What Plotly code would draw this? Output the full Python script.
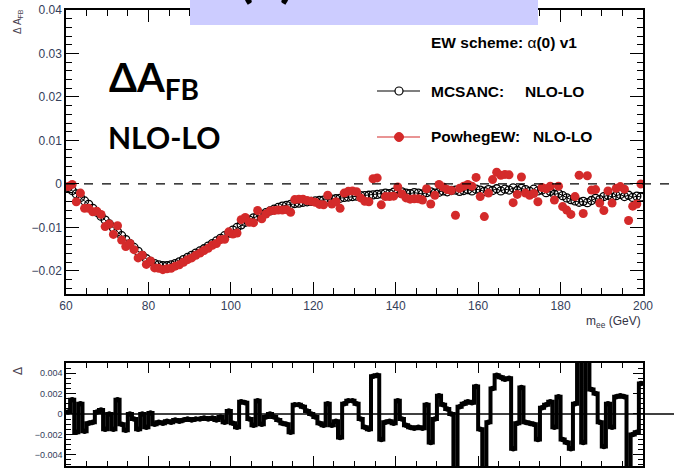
import numpy as np
import plotly.graph_objects as go

# 1 GeV bins in m_ee from 60 to 200 GeV
BIN_EDGES = list(range(60, 201))

# Delta A_FB (NLO-LO), in units of 1e-3, one value per bin
MCSANC_NLO_LO = [
    -0.8, -1.5, -2.3, -3.1, -3.9, -4.7, -5.6, -6.5, -7.4, -8.3,
    -9.2, -10.1, -11.0, -11.9, -12.8, -13.7, -14.6, -15.5, -16.4, -17.2,
    -17.8, -18.3, -18.6, -18.8, -18.8, -18.6, -18.3, -17.9, -17.4, -16.9,
    -16.4, -15.9, -15.4, -14.9, -14.3, -13.7, -13.1, -12.5, -11.9, -11.3,
    -10.6, -10.0, -9.4, -8.8, -8.3, -7.8, -7.4, -7.0, -6.6, -6.2,
    -5.8, -5.4, -5.1, -4.9, -4.7, -4.5, -4.4, -4.2, -4.1, -4.0,
    -3.9, -3.8, -3.7, -3.6, -3.5, -3.4, -3.3, -3.1, -3.0, -2.9,
    -2.8, -2.7, -2.7, -2.6, -2.5, -2.4, -2.3, -2.1, -2.2, -1.9,
    -2.0, -1.8, -2.1, -2.2, -2.0, -2.1, -2.3, -2.0, -1.8, -2.1,
    -1.9, -1.6, -1.8, -1.5, -1.4, -1.7, -1.5, -1.3, -1.6, -1.2,
    -1.4, -1.7, -1.3, -1.5, -1.1, -1.6, -1.2, -1.4, -0.9, -1.5,
    -1.0, -1.3, -1.7, -1.2, -1.6, -1.4, -2.0, -1.7, -2.4, -2.2,
    -2.7, -3.2, -3.6, -3.9, -4.2, -4.0, -4.3, -3.8, -3.3, -3.6,
    -2.9, -2.6, -3.1, -2.7, -2.4, -2.9, -2.6, -3.1, -2.8, -3.0,
]

# PowhegEW minus MCSANC, in units of 1e-3
DELTA = [
    0.2, 1.4, -1.8, 1.0, -1.7, -0.9, -0.8, 0.2, 0.4, -1.5,
    0.0, -1.5, 1.4, -1.0, -1.6, 0.0, -0.5, -1.5, 0.0, -1.3,
    0.1, -1.0, -0.8, -0.9, -0.7, -0.8, -0.6, -0.7, -0.6, -0.5,
    -0.6, -0.5, -0.5, -0.4, -0.5, -0.4, -0.6, -0.3, -0.8, 0.3,
    -0.9, -1.3, 1.2, 1.1, -0.5, -1.1, 1.3, -1.0, -0.3, 0.0,
    -0.3, -0.6, -0.9, -1.0, -1.8, 0.9, 0.9, 0.7, 0.3, 0.0,
    -0.3, -0.9, -1.1, 1.0, -1.1, -0.7, -2.3, 1.0, 1.3, 1.3,
    1.0, -0.5, -1.3, -1.5, 3.7, 3.8, -2.5, -0.8, -0.7, -0.9,
    1.3, -0.5, -1.1, -1.3, -1.4, -1.3, -1.4, 0.9, -2.8, -0.5,
    1.8, 0.9, 0.5, 0.0, -5.8, 0.7, 1.0, 1.2, 1.1, 2.7,
    -1.5, -5.8, -0.8, 2.5, 3.8, 3.6, 3.4, 3.5, -3.4, -0.9,
    2.6, -0.8, -0.9, -1.0, -2.5, 0.6, 0.9, 1.2, -1.3, 1.7,
    -2.5, -2.8, -3.4, 1.0, 6.2, -2.8, 6.2, 2.4, 2.0, -0.8,
    -3.2, 1.0, -1.3, 1.7, 1.8, 1.7, -5.8, -2.0, -1.8, 3.0,
]

X_TICKS = [60, 80, 100, 120, 140, 160, 180, 200]
SCALE = 1e-3

edges = np.array(BIN_EDGES, dtype=float)
centers = 0.5 * (edges[:-1] + edges[1:])
mcsanc = np.array(MCSANC_NLO_LO) * SCALE
delta = np.array(DELTA) * SCALE
powheg = mcsanc + delta

W, H = 674, 469
def px(x):
    return x / W
def py(y):
    return 1 - y / H

X_DOM = [px(66), px(643)]
TICK_COL = "#34405a"
RED = "#d42a2a"
FONT = "Liberation Sans, Arial, sans-serif"

fig = go.Figure()

fig.add_trace(go.Scatter(
    x=centers, y=mcsanc, mode="lines+markers",
    line=dict(color="black", width=1),
    marker=dict(symbol="circle-open", size=8, color="black", line=dict(width=1.3)),
    xaxis="x", yaxis="y", name="MCSANC: NLO-LO",
))
fig.add_trace(go.Scatter(
    x=centers, y=powheg, mode="markers",
    marker=dict(symbol="circle", size=9, color=RED),
    xaxis="x", yaxis="y", name="PowhegEW: NLO-LO",
))

# step histogram of the difference
step_x = list(edges)
step_y = list(delta) + [delta[-1]]
fig.add_trace(go.Scatter(
    x=step_x, y=step_y, mode="lines", line=dict(color="black", width=4, shape="hv"),
    xaxis="x2", yaxis="y2", hoverinfo="skip",
))
fig.add_trace(go.Scatter(
    x=centers, y=delta, mode="markers", marker=dict(color="black", size=5.5),
    xaxis="x2", yaxis="y2",
))

axis_common = dict(
    showline=True, linecolor="black", linewidth=1.5, mirror="allticks",
    ticks="inside", tickcolor="black", showgrid=False, zeroline=False,
    automargin=False,
)

fig.update_layout(
    width=W, height=H, margin=dict(l=0, r=0, t=0, b=0),
    template="none", showlegend=False,
    paper_bgcolor="white", plot_bgcolor="white",
    font=dict(family=FONT, color="black"),
    xaxis=dict(
        domain=X_DOM, range=[60, 200], anchor="y",
        tickvals=X_TICKS, ticklen=12, tickwidth=1.3,
        tickfont=dict(size=12, color=TICK_COL),
        minor=dict(ticks="inside", dtick=5, tick0=60, ticklen=6, tickcolor="black", tickwidth=1.1),
        **axis_common,
    ),
    yaxis=dict(
        domain=[py(294), py(10)], range=[-0.0253, 0.04], anchor="x",
        dtick=0.01, tick0=0, ticklen=13, tickwidth=1.3,
        tickfont=dict(size=12, color=TICK_COL),
        minor=dict(ticks="inside", dtick=0.002, tick0=0, ticklen=6, tickcolor="black", tickwidth=1.1),
        **axis_common,
    ),
    xaxis2=dict(
        domain=X_DOM, range=[60, 200], anchor="y2",
        tickvals=X_TICKS, ticklen=10, tickwidth=1.3,
        tickfont=dict(size=9, color=TICK_COL),
        minor=dict(ticks="inside", dtick=5, tick0=60, ticklen=5, tickcolor="black", tickwidth=1.1),
        **axis_common,
    ),
    yaxis2=dict(
        domain=[py(466), py(363)], range=[-0.0051, 0.005], anchor="x2",
        dtick=0.002, tick0=0, ticklen=10, tickwidth=1.3,
        tickfont=dict(size=9, color=TICK_COL),
        minor=dict(ticks="inside", dtick=0.0005, tick0=0, ticklen=5, tickcolor="black", tickwidth=1.1),
        **axis_common,
    ),
)

shapes = [
    # reference lines at zero
    dict(type="line", xref="paper", yref="y", x0=X_DOM[0], x1=1.0, y0=0, y1=0,
         line=dict(color="black", width=1.3, dash="dash")),
    dict(type="line", xref="paper", yref="y2", x0=X_DOM[0], x1=1.0, y0=0, y1=0,
         line=dict(color="black", width=1.5)),
    # title banner
    dict(type="rect", xref="paper", yref="paper", x0=px(190), x1=px(538), y0=py(25), y1=1.02,
         fillcolor="#ccccff", line=dict(width=0), layer="above"),
    # legend samples
    dict(type="line", xref="paper", yref="paper", x0=px(377), x1=px(420), y0=py(91), y1=py(91),
         line=dict(color="black", width=1.2)),
    dict(type="line", xref="paper", yref="paper", x0=px(377), x1=px(420), y0=py(137), y1=py(137),
         line=dict(color=RED, width=1.2)),
    dict(type="circle", xref="paper", yref="paper", xsizemode="pixel", ysizemode="pixel",
         xanchor=px(399), yanchor=py(91), x0=-4, x1=4, y0=-4, y1=4,
         fillcolor="white", line=dict(color="black", width=1.2)),
    dict(type="circle", xref="paper", yref="paper", xsizemode="pixel", ysizemode="pixel",
         xanchor=px(399), yanchor=py(137), x0=-4.5, x1=4.5, y0=-4.5, y1=4.5,
         fillcolor=RED, line=dict(color=RED, width=1)),
]
fig.update_layout(shapes=shapes)

def note(text, x, y, size, xanchor="left", yanchor="middle", family=FONT, color="black", angle=0):
    return dict(text=text, x=px(x), y=py(y), xref="paper", yref="paper",
                xanchor=xanchor, yanchor=yanchor, showarrow=False, textangle=angle,
                font=dict(size=size, family=family, color=color))

LEG = 15.5
annotations = [
    note("<b>(a)</b>", 266, 10, 56, xanchor="center", yanchor="bottom", family="Lato, sans-serif"),
    note("<b>ΔA<sub>FB</sub></b>", 107, 80, 40, family="Lato, sans-serif"),
    note("<b>NLO-LO</b>", 106, 137, 30, family="Lato, sans-serif"),
    note("<b>EW scheme: </b>α<b>(0) v1</b>", 429, 43, LEG),
    note("<b>MCSANC:</b>", 429, 91, LEG),
    note("<b>NLO-LO</b>", 523, 91, LEG),
    note("<b>PowhegEW:</b>", 429, 137, LEG),
    note("<b>NLO-LO</b>", 531, 137, LEG),
    note("Δ A<sub>FB</sub>", 18, 22, 10, xanchor="center", color="#4a3f4f", angle=-90),
    note("Δ", 18, 371, 12, xanchor="center", color="#4a3f4f", angle=-90),
    note("m<sub>ee</sub> (GeV)", 643, 322, 12, xanchor="right", color="#333344"),
]
fig.update_layout(annotations=annotations)

fig.write_html("out.html")
